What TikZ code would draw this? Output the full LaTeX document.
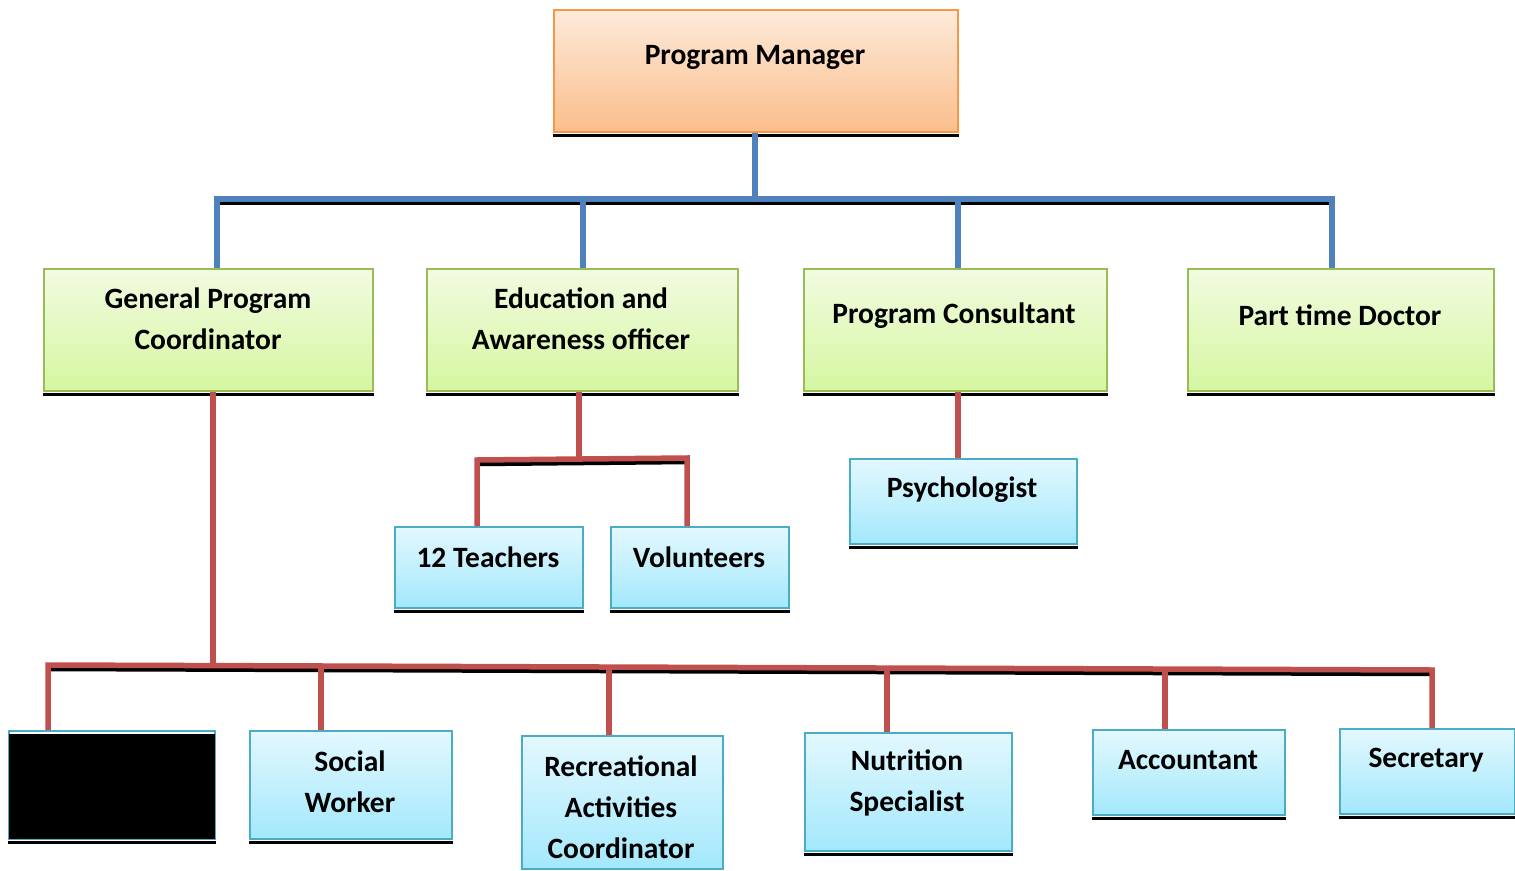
\documentclass[tikz,border=0pt]{standalone}
\usepackage{fontspec}
\setmainfont{Carlito}
\usetikzlibrary{calc}
\definecolor{pmtop}{HTML}{FDEADA}
\definecolor{pmbot}{HTML}{FBBE8C}
\definecolor{pmborder}{HTML}{F79646}
\definecolor{gtop}{HTML}{F2FBE1}
\definecolor{gbot}{HTML}{D5F7A0}
\definecolor{gborder}{HTML}{9BBB59}
\definecolor{btop}{HTML}{E3F8FE}
\definecolor{bbot}{HTML}{A3E8FC}
\definecolor{bborder}{HTML}{4BACC6}
\definecolor{bline}{HTML}{4F81BD}
\definecolor{rline}{HTML}{C0504D}
\tikzset{
  box/.style={rectangle, line width=1.8pt, anchor=north west, inner sep=0pt},
  pmbox/.style={box, draw=pmborder, top color=pmtop, bottom color=pmbot},
  gbox/.style={box, draw=gborder, top color=gtop, bottom color=gbot},
  bbox/.style={box, draw=bborder, top color=btop, bottom color=bbot},
  lbl/.style={font=\fontsize{29.5}{41}\selectfont\bfseries, align=center, inner sep=0pt},
  shad/.style={line width=3.4pt, black},
  bconn/.style={line width=5.5pt, bline},
  rconn/.style={line width=5.5pt, rline},
  bshad/.style={line width=4.5pt, black},
}
\begin{document}
\begin{tikzpicture}[x=1pt,y=-1pt]
\useasboundingbox (0,0) rectangle (1515,870);
% ---- boxes
\node[pmbox, minimum width=404pt, minimum height=122pt] (pm) at (553,9) {};
\node[gbox, minimum width=329pt, minimum height=122pt] (gpc) at (43,268) {};
\node[gbox, minimum width=311pt, minimum height=122pt] (eao) at (426,268) {};
\node[gbox, minimum width=303pt, minimum height=122pt] (pc) at (803,268) {};
\node[gbox, minimum width=306pt, minimum height=122pt] (ptd) at (1187,268) {};
\node[bbox, minimum width=188pt, minimum height=81pt] (tea) at (394,526) {};
\node[bbox, minimum width=178pt, minimum height=81pt] (vol) at (610,526) {};
\node[bbox, minimum width=227pt, minimum height=85pt] (psy) at (849,458) {};
\node[box, draw=bborder, fill=white, minimum width=206pt, minimum height=108pt] (red) at (8,730) {};
\fill[black] ([shift={(1pt,-4pt)}]red.north west) rectangle ([shift={(-1pt,1pt)}]red.south east);
\node[bbox, minimum width=202pt, minimum height=108pt] (sw) at (249,730) {};
\node[bbox, minimum width=201pt, minimum height=133pt] (rac) at (521,735) {};
\node[bbox, minimum width=207pt, minimum height=118pt] (nut) at (804,732) {};
\node[bbox, minimum width=192pt, minimum height=85pt] (acc) at (1092,729) {};
\node[bbox, minimum width=175pt, minimum height=85pt] (sec) at (1339,728) {};
% ---- shadows under boxes
\foreach \n in {pm,gpc,eao,pc,ptd,tea,vol,psy,red,sw,rac,nut,acc,sec}
  \draw[shad] ([yshift=-2.4pt]\n.south west) -- ([yshift=-2.4pt]\n.south east);
% ---- labels
\node[lbl] (pm-t) at (755,57) {Program Manager};
\node[lbl] (gpc-t) at (208,319) {General Program\\Coordinator};
\node[lbl] (eao-t) at (581,319) {Education and\\Awareness officer};
\node[lbl] (pc-t) at (954,316) {Program Consultant};
\node[lbl] (ptd-t) at (1340,315) {Part time Doctor};
\node[lbl] (tea-t) at (488,557) {12 Teachers};
\node[lbl] (vol-t) at (699,557) {Volunteers};
\node[lbl] (psy-t) at (962,490) {Psychologist};
\node[lbl] (sw-t) at (350,782) {Social\\Worker};
\node[lbl] (rac-t) at (621,807) {Recreational\\Activities\\Coordinator};
\node[lbl] (nut-t) at (907,783) {Nutrition\\Specialist};
\node[lbl] (acc-t) at (1188,760) {Accountant};
\node[lbl] (sec-t) at (1426,760) {Secretary};
% ---- top bus (blue)
\coordinate (bM) at (755,199);
\coordinate (bL) at (217,199);
\coordinate (b2) at (583,199);
\coordinate (b3) at (958,199);
\coordinate (bR) at (1332,199);
\draw[bshad] ([shift={(2pt,-4pt)}]bL) -- ([shift={(0pt,-4pt)}]bR);
\draw[bconn] (pm.south -| bM) -- (bM);
\draw[bconn] (bL |- gpc.north) -- (bL) -- (bR) -- (bR |- ptd.north);
\draw[bconn] (b2) -- (b2 |- eao.north);
\draw[bconn] (b3) -- (b3 |- pc.north);
% ---- education bus (red)
\coordinate (eM) at (579,459);
\coordinate (eL) at (477,460);
\coordinate (eR) at (687,458);
\draw[bshad] ([shift={(2pt,-4pt)}]eL) -- ([shift={(0pt,-4pt)}]eR);
\draw[rconn] (eao.south -| eM) -- (eM);
\draw[rconn] (eL |- tea.north) -- (eL) -- (eR) -- (eR |- vol.north);
% ---- consultant to psychologist
\coordinate (pX) at (958,400);
\draw[rconn] (pc.south -| pX) -- (pX |- psy.north);
% ---- bottom bus (red)
\coordinate (gM) at (213,665);
\coordinate (g1) at (48,665);
\coordinate (g2) at (321,666);
\coordinate (g3) at (609,667);
\coordinate (g4) at (887,668);
\coordinate (g5) at (1165,669);
\coordinate (g6) at (1432,670);
\draw[bshad] ([shift={(2pt,-4pt)}]g1) -- ([shift={(0pt,-4pt)}]g6);
\draw[rconn] (gpc.south -| gM) -- (gM);
\draw[rconn] (g1 |- red.north) -- (g1) -- (g6) -- (g6 |- sec.north);
\draw[rconn] (g2) -- (g2 |- sw.north);
\draw[rconn] (g3) -- (g3 |- rac.north);
\draw[rconn] (g4) -- (g4 |- nut.north);
\draw[rconn] (g5) -- (g5 |- acc.north);
\end{tikzpicture}
\end{document}
